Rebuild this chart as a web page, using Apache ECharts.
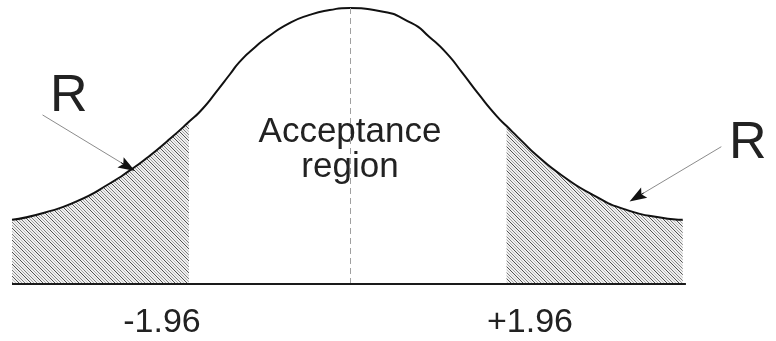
<!DOCTYPE html>
<html>
<head>
<meta charset="utf-8">
<script src="https://cdn.jsdelivr.net/npm/echarts@6/dist/echarts.min.js"></script>
<style>
  html, body { margin: 0; padding: 0; background: #fff; }
  #chart { width: 776px; height: 341px; }
</style>
</head>
<body>
<div id="chart"></div>
<script>
// curve: z position and height above the baseline
const curveX = [-4.20, -3.81, -3.39, -2.98, -2.73, -2.52, -2.27, -2.00, -1.83, -1.65, -1.49, -1.37, -1.20, -1.03, -0.75, -0.50, -0.25, 0.00,
  0.35, 0.77, 0.99, 1.20, 1.40, 1.61, 1.83, 1.95, 2.15, 2.32, 2.63, 3.04, 3.45, 3.88, 4.14]
const curveY = [0.093, 0.103, 0.120, 0.146, 0.165, 0.183, 0.207, 0.235, 0.254, 0.280, 0.304, 0.322, 0.341, 0.357, 0.378, 0.390, 0.397, 0.400,
  0.396, 0.378, 0.358, 0.335, 0.306, 0.274, 0.243, 0.229, 0.206, 0.187, 0.158, 0.128, 0.107, 0.096, 0.093]

// rejection region edges (as drawn)
const leftCut = -2.00
const rightCut = 1.95
// baseline extent
const baseX = [-4.2, 4.18]

// tick labels under the axis
const tickLabels = ['-1.96', '+1.96']
const regionLabel = 'Acceptance\nregion'
const rejectLabel = 'R'

// arrows pointing at the tails: [start, tip]
const leftArrow = [[-3.82, 0.245], [-2.76, 0.170]]
const rightArrow = [[4.62, 0.199], [3.57, 0.126]]

const curve = curveX.map((x, i) => [x, curveY[i]])
const leftTail = curve.filter(p => p[0] <= leftCut)
const rightTail = curve.filter(p => p[0] >= rightCut)

// hatching pattern for the tails
function makeHatch() {
  const size = 12
  const c = document.createElement('canvas')
  c.width = size
  c.height = size
  const ctx = c.getContext('2d')
  ctx.fillStyle = '#f0f0f0'
  ctx.fillRect(0, 0, size, size)
  const shades = ['#505050', '#a8a8a8', '#7a7a7a', '#c4c4c4']
  ctx.lineWidth = 1
  for (let k = 0; k < 4; k++) {
    ctx.strokeStyle = shades[k]
    for (const off of [-size, 0, size]) {
      const x0 = k * 3 + off
      ctx.beginPath()
      ctx.moveTo(x0, 0)
      ctx.lineTo(x0 + size, size)
      ctx.stroke()
    }
  }
  return c
}

// short piece at the tip so the arrow head is black while the shaft stays grey
function headSegment(arrow) {
  const [s, t] = arrow
  return [[t[0] - (t[0] - s[0]) * 0.08, t[1] - (t[1] - s[1]) * 0.08], t]
}

const arrowHead = 'path://M5 0 L10 16 L5 13 L0 16 Z'

const chart = echarts.init(document.getElementById('chart'))
const hatch = { image: makeHatch(), repeat: 'repeat' }
const font = '"Liberation Sans", Arial, sans-serif'

const marks = [
  [{ coord: [0, 0], lineStyle: { color: '#a0a0a0', type: [6, 4], width: 1 } }, { coord: [0, 0.4] }],
  [{ coord: [baseX[0], 0], lineStyle: { color: '#1a1a1a', type: 'solid', width: 2 } }, { coord: [baseX[1], 0] }],
  [{ coord: leftArrow[0], lineStyle: { color: '#8c8c8c', width: 1, type: 'solid' } }, { coord: leftArrow[1] }],
  [{ coord: rightArrow[0], lineStyle: { color: '#8c8c8c', width: 1, type: 'solid' } }, { coord: rightArrow[1] }],
  [{ coord: headSegment(leftArrow)[0], lineStyle: { color: '#111', width: 1, type: 'solid' } },
    { coord: headSegment(leftArrow)[1], symbol: arrowHead, symbolSize: [12, 17] }],
  [{ coord: headSegment(rightArrow)[0], lineStyle: { color: '#111', width: 1, type: 'solid' } },
    { coord: headSegment(rightArrow)[1], symbol: arrowHead, symbolSize: [12, 17] }]
]

chart.setOption({
  animation: false,
  backgroundColor: '#fff',
  grid: { left: 12, right: 0, top: 8, bottom: 57 },
  xAxis: {
    type: 'value',
    min: -4.2,
    max: 5.3,
    axisLine: { show: false },
    axisTick: { show: false },
    axisLabel: { show: false },
    splitLine: { show: false }
  },
  yAxis: {
    type: 'value',
    min: 0,
    max: 0.4,
    show: false
  },
  series: [
    {
      name: 'left tail',
      type: 'line',
      data: leftTail,
      smooth: 0.6,
      showSymbol: false,
      lineStyle: { width: 0 },
      areaStyle: { color: hatch, opacity: 1 },
      z: 1
    },
    {
      name: 'right tail',
      type: 'line',
      data: rightTail,
      smooth: 0.6,
      showSymbol: false,
      lineStyle: { width: 0 },
      areaStyle: { color: hatch, opacity: 1 },
      z: 1
    },
    {
      name: 'curve',
      type: 'line',
      data: curve,
      smooth: 0.6,
      showSymbol: false,
      clip: false,
      lineStyle: { color: '#111', width: 2 },
      z: 3,
      markLine: {
        silent: true,
        symbol: 'none',
        label: { show: false },
        data: marks
      }
    }
  ],
  graphic: [
    {
      type: 'text', x: 350, y: 150,
      style: { text: regionLabel, font: '35px ' + font, fill: '#222', align: 'center', verticalAlign: 'middle', lineHeight: 35 }
    },
    {
      type: 'text', x: 162, y: 323,
      style: { text: tickLabels[0], font: '34px ' + font, fill: '#222', align: 'center', verticalAlign: 'middle' }
    },
    {
      type: 'text', x: 530, y: 323,
      style: { text: tickLabels[1], font: '34px ' + font, fill: '#222', align: 'center', verticalAlign: 'middle' }
    },
    {
      type: 'text', x: 50, y: 97,
      style: { text: rejectLabel, font: '52px ' + font, fill: '#222', align: 'left', verticalAlign: 'middle' }
    },
    {
      type: 'text', x: 729, y: 144,
      style: { text: rejectLabel, font: '52px ' + font, fill: '#222', align: 'left', verticalAlign: 'middle' }
    }
  ]
})
</script>
</body>
</html>
